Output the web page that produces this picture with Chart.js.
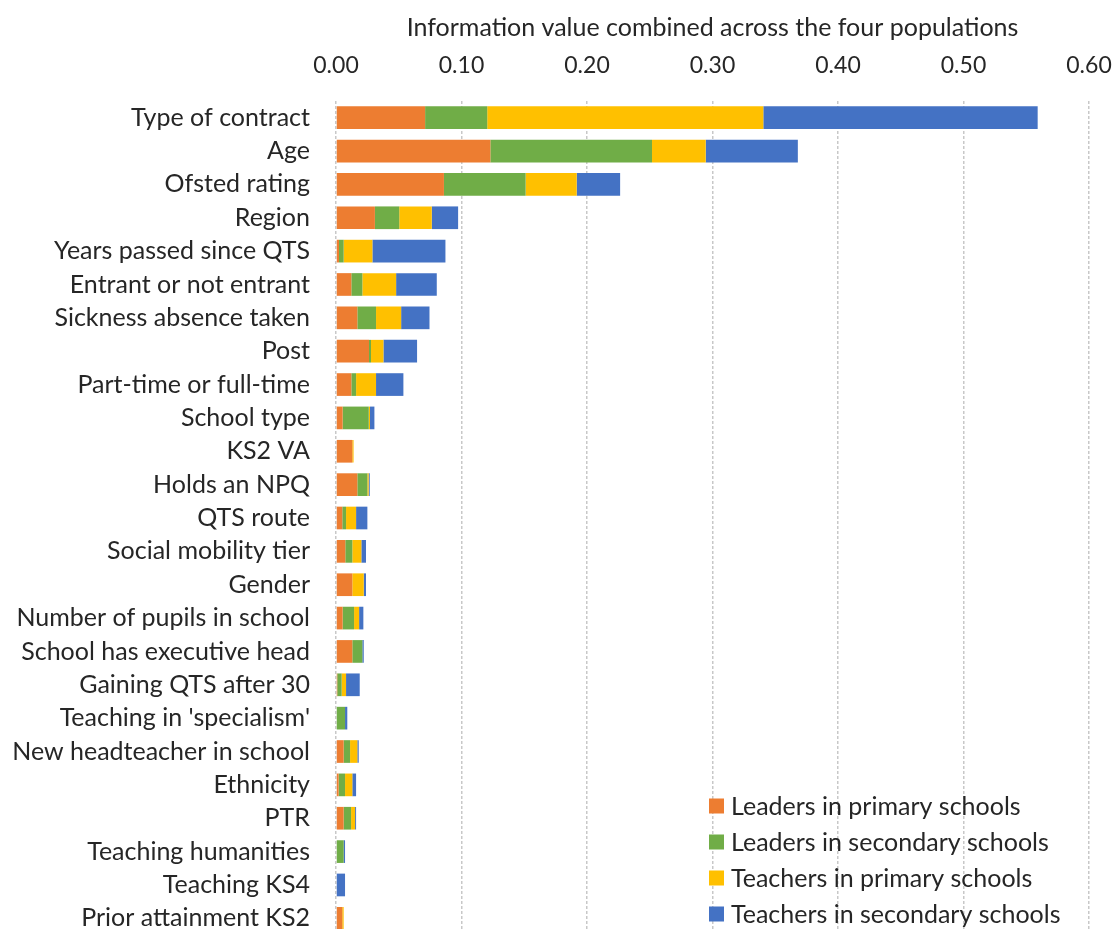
<!DOCTYPE html>
<html>
<head>
<meta charset="utf-8">
<script src="https://cdn.jsdelivr.net/npm/chart.js@4"></script>
<style>
html,body{margin:0;padding:0;background:#fff;overflow:hidden;width:1118px;height:929px;}
#wrap{position:relative;width:1118px;height:935px;}
</style>
</head>
<body>
<div id="wrap"><canvas id="c" width="1118" height="935"></canvas></div>
<script>
const categories = ["Type of contract","Age","Ofsted rating","Region","Years passed since QTS","Entrant or not entrant","Sickness absence taken","Post","Part-time or full-time","School type","KS2 VA","Holds an NPQ","QTS route","Social mobility tier","Gender","Number of pupils in school","School has executive head","Gaining QTS after 30","Teaching in 'specialism'","New headteacher in school","Ethnicity","PTR","Teaching humanities","Teaching KS4","Prior attainment KS2"];
const leadersPrimary   = [0.071,0.123,0.086,0.031,0.0024,0.0122,0.017,0.0263,0.0122,0.0053,0.013,0.017,0.005,0.0074,0.013,0.0053,0.013,0.001,0,0.0061,0.0021,0.0061,0,0,0.005];
const leadersSecondary = [0.0495,0.1288,0.0651,0.0194,0.0037,0.0088,0.0149,0.0016,0.0038,0.0208,0,0.008,0.003,0.0056,0,0.0091,0.008,0.0035,0.0072,0.0051,0.0051,0.0059,0.0061,0,0];
const teachersPrimary  = [0.22,0.0428,0.0407,0.0259,0.0229,0.0269,0.02,0.0099,0.0159,0.001,0.001,0.001,0.008,0.0072,0.0091,0.004,0,0.0035,0,0.0058,0.0058,0.0032,0,0,0.0011];
const teachersSecondary= [0.2186,0.0734,0.0346,0.021,0.0582,0.0324,0.0226,0.0268,0.0218,0.0035,0,0.0009,0.009,0.0037,0.0018,0.0034,0.0011,0.0109,0.0018,0.0011,0.003,0.0008,0.0011,0.0072,0];
const seriesNames = ["Leaders in primary schools","Leaders in secondary schools","Teachers in primary schools","Teachers in secondary schools"];
const xTicks = [0,0.1,0.2,0.3,0.4,0.5,0.6];
const axisTitle = "Information value combined across the four populations";

const colors = ["#ED7D31","#70AD47","#FFC000","#4472C4"];
const FONT = "Lato, 'Open Sans', sans-serif";
const TXT = "#262626";

const legendPlugin = {
  id: 'insideLegend',
  afterDatasetsDraw(chart) {
    const ctx = chart.ctx;
    ctx.save();
    ctx.font = "25px " + FONT;
    ctx.textBaseline = "middle";
    ctx.textAlign = "left";
    chart.data.datasets.forEach((ds, i) => {
      const y = 806 + i * 36;
      ctx.fillStyle = ds.backgroundColor;
      ctx.fillRect(709, y - 7.5, 15, 15);
      ctx.fillStyle = TXT;
      ctx.fillText(ds.label, 731, y + 1);
    });
    ctx.restore();
  }
};

new Chart(document.getElementById('c'), {
  type: 'bar',
  data: {
    labels: categories,
    datasets: [
      {label: seriesNames[0], data: leadersPrimary, backgroundColor: colors[0]},
      {label: seriesNames[1], data: leadersSecondary, backgroundColor: colors[1]},
      {label: seriesNames[2], data: teachersPrimary, backgroundColor: colors[2]},
      {label: seriesNames[3], data: teachersSecondary, backgroundColor: colors[3]}
    ]
  },
  options: {
    indexAxis: 'y',
    responsive: false,
    animation: false,
    layout: {padding: {left: 0, right: 29, top: 0, bottom: 0}},
    datasets: {bar: {categoryPercentage: 1, barPercentage: 0.68, borderWidth: 0}},
    plugins: {legend: {display: false}, tooltip: {enabled: false}},
    scales: {
      x: {
        position: 'top',
        stacked: true,
        min: 0, max: 0.6,
        afterBuildTicks(axis) { axis.ticks = xTicks.map(v => ({value: v})); },
        afterFit(axis) { axis.height = 101; axis.paddingLeft = 0; axis.paddingRight = 0; },
        ticks: {
          callback: v => Number(v).toFixed(2),
          font: {family: FONT, size: 23},
          color: TXT,
          padding: 22,
          maxRotation: 0
        },
        grid: {color: '#c8c8c8', lineWidth: 1.5, drawTicks: false},
        border: {display: false, dash: [3,2]},
        title: {display: true, text: axisTitle, font: {family: FONT, size: 25}, color: TXT, padding: {top: 13, bottom: 0}}
      },
      y: {
        stacked: true,
        afterFit(axis) { axis.width = 336; axis.paddingTop = 0; axis.paddingBottom = 0; },
        ticks: {font: {family: FONT, size: 25}, color: TXT, padding: 18, autoSkip: false},
        grid: {display: false},
        border: {display: false}
      }
    }
  },
  plugins: [legendPlugin]
});
</script>
</body>
</html>
